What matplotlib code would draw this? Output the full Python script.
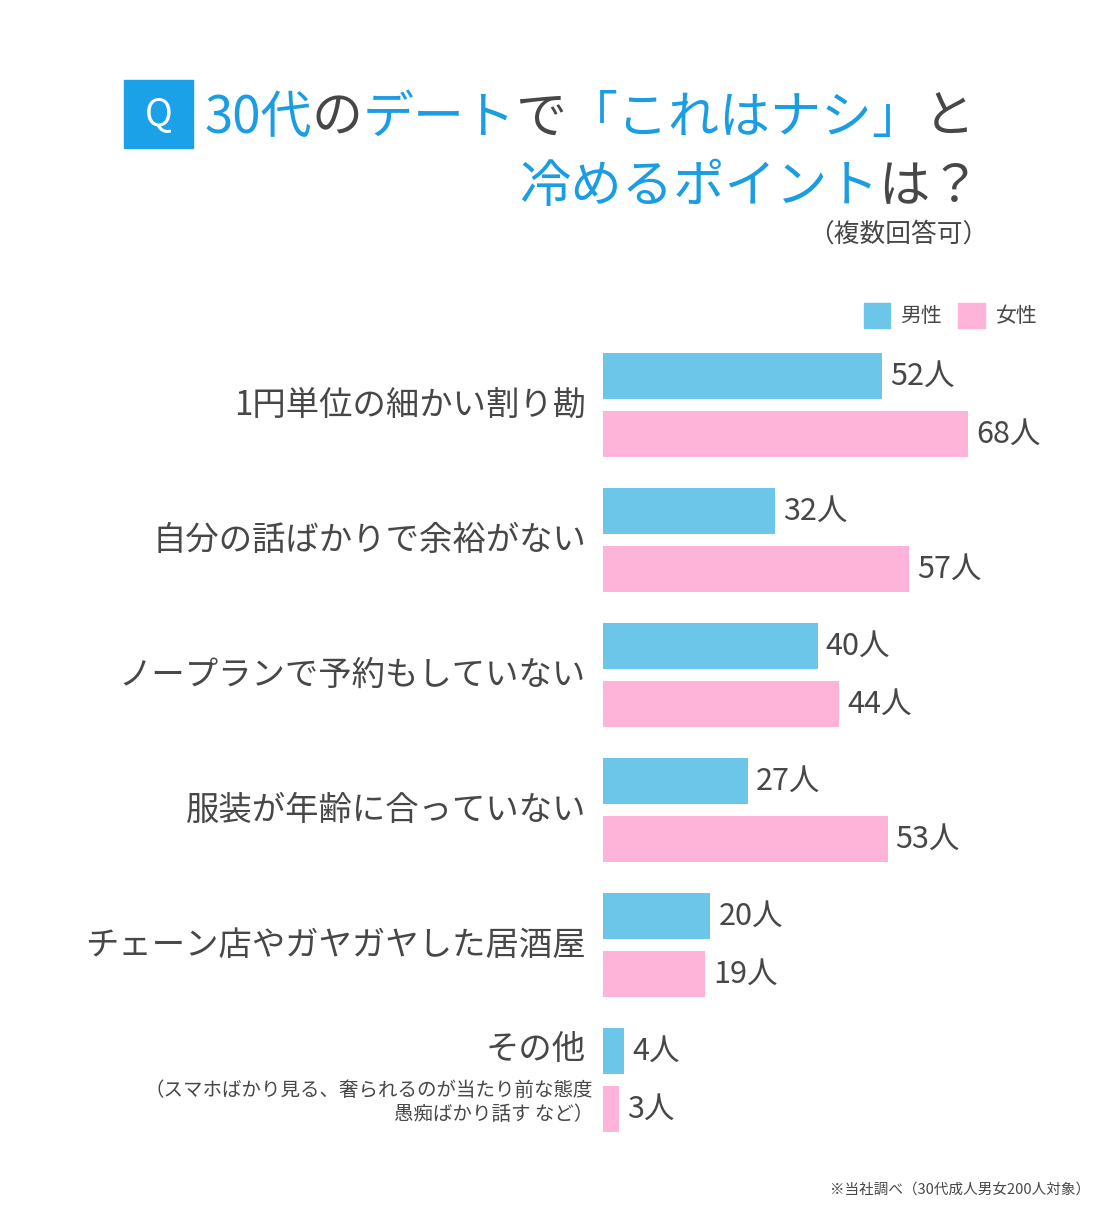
import numpy as np
import matplotlib
matplotlib.use("Agg")
import matplotlib.pyplot as plt
from matplotlib.patches import Rectangle

plt.rcParams['font.family'] = ['Noto Sans CJK JP', 'DejaVu Sans']

# ── データ ─────────────────────────────────────────────
categories = ["1円単位の細かい割り勘", "自分の話ばかりで余裕がない", "ノープランで予約もしていない",
              "服装が年齢に合っていない", "チェーン店やガヤガヤした居酒屋", "その他"]
other_note = ["（スマホばかり見る、奢られるのが当たり前な態度", "愚痴ばかり話す など）"]
male = [52, 32, 40, 27, 20, 4]
female = [68, 57, 44, 53, 19, 3]
series_names = ["男性", "女性"]

BLUE = "#6cc6ea"
PINK = "#fdb4d8"
TITLE_BLUE = "#1a9de2"
DARK = "#474747"

W, H = 1100, 1210
fig = plt.figure(figsize=(W / 100, H / 100), dpi=100)

# 背景用（ピクセル座標）
bg = fig.add_axes([0, 0, 1, 1])
bg.set_xlim(0, W)
bg.set_ylim(H, 0)
bg.axis("off")

# ── 棒グラフ ────────────────────────────────────────────
px_unit = 135.0
top_px, bot_px = 340, 1145
ax = fig.add_axes([603 / W, 1 - bot_px / H, (W - 603) / W, (bot_px - top_px) / H])
ax.set_xlim(0, (W - 603) / 5.37)
ax.set_ylim((bot_px - 376) / px_unit, (top_px - 376) / px_unit)
ax.axis("off")

y = np.arange(len(categories))
off = 58 / px_unit
h = 46.5 / px_unit
ax.barh(y, male, height=h, color=BLUE)
ax.barh(y + off, female, height=h, color=PINK)
for yi, m, f in zip(y, male, female):
    ax.text(m + 1.5, yi, f"{m}人", va="center", ha="left", fontsize=22, color=DARK)
    ax.text(f + 1.5, yi + off, f"{f}人", va="center", ha="left", fontsize=22, color=DARK)

# カテゴリラベル
for i, cat in enumerate(categories):
    if i < len(categories) - 1:
        yy = 376 + px_unit * i + 29
        bg.text(586, yy, cat, ha="right", va="center", fontsize=24, color=DARK)
    else:
        yy = 376 + px_unit * i - 2
        bg.text(586, yy, cat, ha="right", va="center", fontsize=24, color=DARK)
        bg.text(593, 1090, other_note[0], ha="right", va="center", fontsize=14, color=DARK)
        bg.text(593, 1115, other_note[1], ha="right", va="center", fontsize=14, color=DARK)

# ── タイトル ────────────────────────────────────────────
bg.add_patch(Rectangle((124, 80), 69, 68, color="#1aa1e8"))
bg.text(158.5, 115, "Q", ha="center", va="center", fontsize=27, color="white")

fig.canvas.draw()
renderer = fig.canvas.get_renderer()


def colored_line(segments, x_right, baseline, size, trim_right=0.0):
    # 右端から左へ順に配置
    em = size * 100 / 72
    x = x_right + trim_right * em
    for txt, col in reversed(segments):
        t = bg.text(x, baseline, txt, ha="right", va="baseline", fontsize=size, color=col)
        x -= t.get_window_extent(renderer=renderer).width


colored_line([("30代", TITLE_BLUE), ("の", DARK), ("デート", TITLE_BLUE), ("で", DARK),
              ("「これはナシ」", TITLE_BLUE), ("と", DARK)], 975, 133, 36.7)
colored_line([("冷めるポイント", TITLE_BLUE), ("は？", DARK)], 975, 202, 37, trim_right=0.12)
bg.text(988, 235, "（複数回答可）", ha="right", va="center", fontsize=18.5, color=DARK)

# ── 凡例 ─────────────────────────────────────────────
bg.add_patch(Rectangle((864, 303), 26, 25, color=BLUE))
bg.text(900, 315.5, series_names[0], ha="left", va="center", fontsize=15, color=DARK)
bg.add_patch(Rectangle((958, 303), 27, 25, color=PINK))
bg.text(996, 315.5, series_names[1], ha="left", va="center", fontsize=15, color=DARK)

# 注記
bg.text(1090, 1190, "※当社調べ（30代成人男女200人対象）", ha="right", va="center",
        fontsize=10.5, color=DARK)

fig.savefig("out.png", dpi=100, facecolor="white")
